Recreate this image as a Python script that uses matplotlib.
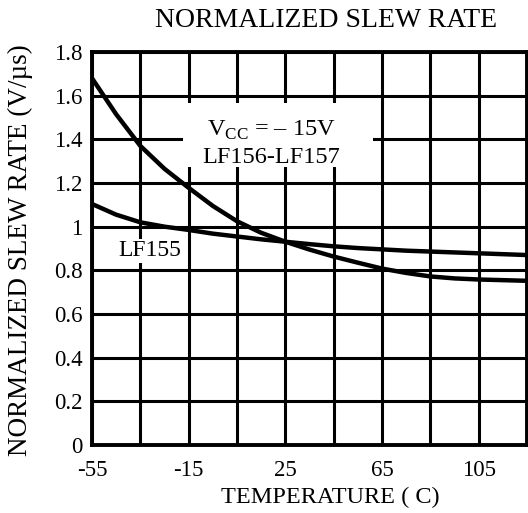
import matplotlib
matplotlib.use('Agg')
import matplotlib.pyplot as plt
from matplotlib.patches import Rectangle

plt.rcParams['font.family'] = ['Liberation Serif', 'DejaVu Serif']
plt.rcParams['mathtext.fontset'] = 'custom'
plt.rcParams['mathtext.rm'] = 'Liberation Serif'
plt.rcParams['axes.unicode_minus'] = False

# temperature (C)
temps = [-55, -45, -35, -25, -15, -5, 5, 15, 25, 35, 45, 55, 65, 75, 85, 95, 105, 115, 125]
# normalized slew rate
lf156_157 = [1.68, 1.515, 1.37, 1.265, 1.178, 1.095, 1.025, 0.972, 0.931, 0.895,
             0.863, 0.835, 0.808, 0.788, 0.772, 0.763, 0.758, 0.755, 0.752]
lf155 = [1.104, 1.055, 1.02, 1.0, 0.985, 0.968, 0.955, 0.942, 0.931, 0.92,
         0.91, 0.902, 0.896, 0.89, 0.886, 0.882, 0.878, 0.874, 0.87]

x_labeled = [-55, -15, 25, 65, 105]
x_grid = [-35, 5, 45, 85, 125]
y_ticks = [0, 0.2, 0.4, 0.6, 0.8, 1.0, 1.2, 1.4, 1.6, 1.8]
y_labels = ['0', '0.2', '0.4', '0.6', '0.8', '1', '1.2', '1.4', '1.6', '1.8']

fig = plt.figure(figsize=(5.28, 5.13), dpi=100)
ax = fig.add_axes([0.1742, 0.1326, 0.824, 0.766])

ax.set_xlim(-55, 125)
ax.set_ylim(0, 1.8)
ax.set_xticks(x_labeled)
ax.set_xticks(x_grid, minor=True)
ax.set_yticks(y_ticks)
ax.set_yticklabels(y_labels)
ax.grid(True, which='both', color='black', linewidth=2.2, zorder=1)
ax.set_axisbelow(True)
ax.tick_params(which='both', length=0)
ax.tick_params(axis='x', pad=11, labelsize=16.5)
ax.tick_params(axis='y', pad=7, labelsize=16.5)
for s in ax.spines.values():
    s.set_linewidth(2.8)

# white patch behind the Vcc note, it cuts the grid there
ax.add_patch(Rectangle((-17.4, 1.273), 78.5, 0.294, facecolor='white',
                       edgecolor='none', zorder=2))

ax.plot(temps, lf156_157, color='black', linewidth=3.2, zorder=3)
ax.plot(temps, lf155, color='black', linewidth=3.2, zorder=3)

ax.text(19, 1.44, r'V$_{\mathregular{CC}}$ = – 15V', ha='center', va='center',
        fontsize=17.5, zorder=4)
ax.text(19, 1.317, 'LF156-LF157', ha='center', va='center', fontsize=17.5, zorder=4)
ax.text(-31, 0.889, 'LF155', ha='center', va='center', fontsize=17, zorder=4,
        bbox=dict(facecolor='white', edgecolor='none', pad=1))

fig.text(0.618, 0.961, 'NORMALIZED SLEW RATE', ha='center', va='center', fontsize=20)
fig.text(0.625, 0.031, 'TEMPERATURE ( C)', ha='center', va='center', fontsize=17.5)
fig.text(0.038, 0.513, 'NORMALIZED SLEW RATE (V/µs)', ha='center', va='center',
         rotation=90, fontsize=19.5)

fig.savefig('out.png', dpi=100)
